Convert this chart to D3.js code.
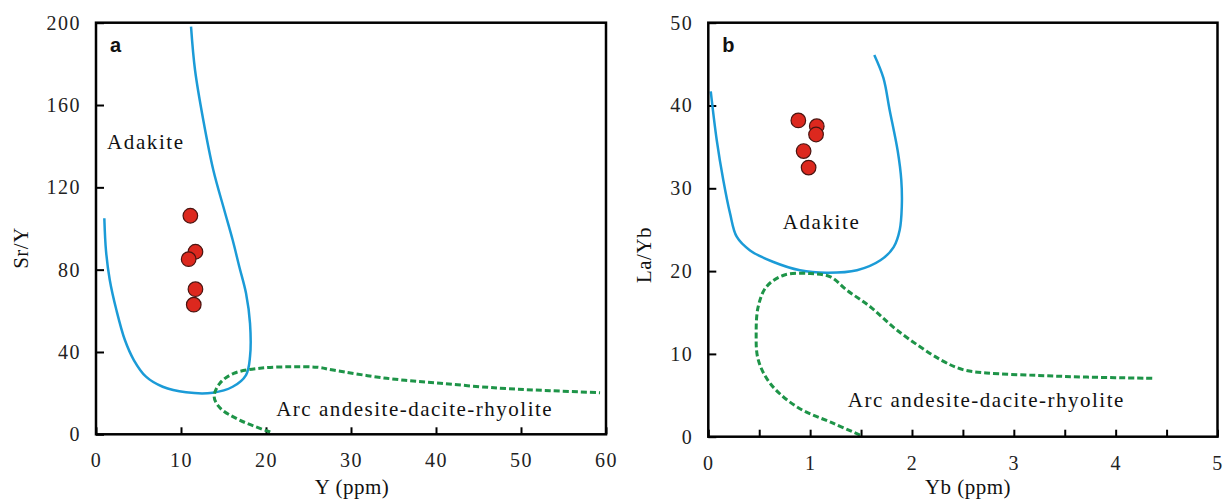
<!DOCTYPE html>
<html>
<head>
<meta charset="utf-8">
<script src="https://cdn.jsdelivr.net/npm/d3@7"></script>
<style>
  body { margin: 0; background: #fff; }
  .tick text { font-family: "Liberation Serif", "Times New Roman", serif; font-size: 20px; letter-spacing: 1.5px; fill: #222; }
  .axis path.domain { display: none; }
  .axis line { stroke: #000; stroke-width: 2; }
  .label { font-family: "Liberation Serif", "Times New Roman", serif; font-size: 21px; fill: #111; }
  .panel { font-family: "Liberation Sans", Arial, sans-serif; font-size: 20px; font-weight: bold; fill: #111; }
</style>
</head>
<body>
<script>
// panel a: Sr/Y vs Y
var aSamples = [[11.1, 106.2], [11.7, 88.7], [10.9, 85.1], [11.7, 70.5], [11.5, 63.0]];
var aAdakite = [[0.98, 105.0], [1.18, 89.0], [1.62, 75.0], [2.4, 60.4], [3.4, 45.8], [4.45, 36.1],
  [5.88, 28.0], [7.85, 23.1], [10.59, 20.4], [13.73, 20.2], [16.08, 23.1], [17.65, 28.8], [18.12, 37.7],
  [18.12, 53.9], [17.65, 68.5], [16.86, 81.4], [16.08, 94.4], [15.09, 109.0], [13.8, 128.4],
  [12.62, 152.7], [11.65, 177.0], [11.18, 198.1]];
var aArc = [[20.5, 1.1], [16.9, 6.9], [14.6, 12.8], [13.9, 18.3], [14.6, 24.9], [16.2, 29.6], [19.3, 32.1],
  [22.8, 32.8], [26.0, 32.6], [27.9, 31.2], [34.2, 27.2], [40.5, 24.8], [47.5, 22.4], [53.4, 21.2], [59.3, 20.2]];
var aXTicks = [0, 10, 20, 30, 40, 50, 60];
var aYTicks = [0, 40, 80, 120, 160, 200];

// panel b: La/Yb vs Yb
var bSamples = [[0.884, 38.2], [1.065, 37.5], [1.058, 36.5], [0.936, 34.5], [0.985, 32.5]];
var bAdakite = [[0.024, 41.7], [0.083, 35.8], [0.147, 31.0], [0.213, 27.0], [0.279, 24.15], [0.41, 22.5],
  [0.64, 21.1], [0.90, 20.1], [1.16, 19.8], [1.46, 20.1], [1.69, 21.3], [1.82, 22.9], [1.88, 25.0],
  [1.90, 27.8], [1.895, 31.0], [1.86, 34.5], [1.78, 39.5], [1.72, 43.3], [1.63, 46.1]];
var bArc = [[1.49, 0.2], [1.23, 1.6], [0.87, 3.6], [0.61, 6.4], [0.49, 9.3], [0.47, 12.5], [0.49, 15.7],
  [0.57, 18.1], [0.74, 19.5], [1.0, 19.7], [1.20, 19.3], [1.36, 17.7], [1.59, 15.7], [1.85, 12.9],
  [2.28, 9.3], [2.50, 8.1], [2.73, 7.7], [3.23, 7.4], [3.72, 7.2], [4.37, 7.05]];
var bXTicks = [0, 0.5, 1, 1.5, 2, 2.5, 3, 3.5, 4, 4.5, 5];
var bYTicks = [0, 10, 20, 30, 40, 50];

var blue = "#1b9bd7", green = "#1e9448", red = "#dc281e";

var svg = d3.select("body").append("svg")
    .attr("width", 1225)
    .attr("height", 499);

function panel(o) {
  var x = d3.scaleLinear().domain(o.xDomain).range(o.xRange);
  var y = d3.scaleLinear().domain(o.yDomain).range(o.yRange);
  var g = svg.append("g");

  g.append("g")
      .attr("class", "axis")
      .attr("transform", "translate(0," + o.yRange[0] + ")")
      .call(d3.axisBottom(x).tickValues(o.xTicks).tickSize(-7).tickPadding(18)
        .tickFormat(function(d) { return Number.isInteger(d) ? d : ""; }))
      .selectAll(".tick text").attr("dy", "0.35em").attr("y", 26);

  g.append("g")
      .attr("class", "axis")
      .attr("transform", "translate(" + o.xRange[0] + ",0)")
      .call(d3.axisLeft(y).tickValues(o.yTicks).tickSize(-8).tickPadding(15));

  var line = d3.line()
      .x(function(d) { return x(d[0]); })
      .y(function(d) { return y(d[1]); })
      .curve(d3.curveCatmullRom.alpha(0.5));

  g.append("path")
      .attr("d", line(o.adakite))
      .attr("fill", "none")
      .attr("stroke", blue)
      .attr("stroke-width", 2.5);

  g.append("path")
      .attr("d", line(o.arc))
      .attr("fill", "none")
      .attr("stroke", green)
      .attr("stroke-width", 3)
      .attr("stroke-dasharray", "6,3");

  g.selectAll(".dot")
      .data(o.samples)
      .enter().append("circle")
      .attr("class", "dot")
      .attr("cx", function(d) { return x(d[0]); })
      .attr("cy", function(d) { return y(d[1]); })
      .attr("r", 7.3)
      .attr("fill", red)
      .attr("stroke", "#4a1410")
      .attr("stroke-width", 1.2);

  // frame
  g.append("rect")
      .attr("x", o.xRange[0])
      .attr("y", o.yRange[1])
      .attr("width", o.xRange[1] - o.xRange[0])
      .attr("height", o.yRange[0] - o.yRange[1])
      .attr("fill", "none")
      .attr("stroke", "#000")
      .attr("stroke-width", 2.5);

  g.append("text")
      .attr("class", "panel")
      .attr("x", o.xRange[0] + 14)
      .attr("y", o.yRange[1] + 29)
      .text(o.tag);

  g.append("text")
      .attr("class", "label")
      .attr("x", o.xTitleX)
      .attr("y", 494)
      .style("text-anchor", "middle")
      .style("letter-spacing", "0.5px")
      .text(o.xTitle);

  g.append("text")
      .attr("class", "label")
      .attr("transform", "translate(" + o.yTitleX + "," + o.yTitleY + ") rotate(-90)")
      .style("text-anchor", "middle")
      .style("letter-spacing", "0.5px")
      .text(o.yTitle);

  o.texts.forEach(function(t) {
    g.append("text")
        .attr("class", "label")
        .attr("x", x(t.x))
        .attr("y", y(t.y))
        .style("letter-spacing", t.ls)
        .text(t.text);
  });
}

panel({
  xDomain: [0, 60], xRange: [96, 606],
  yDomain: [0, 200], yRange: [434.3, 22.7],
  xTicks: aXTicks, yTicks: aYTicks,
  samples: aSamples, adakite: aAdakite, arc: aArc,
  tag: "a", xTitle: "Y (ppm)", xTitleX: 352, yTitle: "Sr/Y", yTitleX: 28, yTitleY: 248,
  texts: [
    {text: "Adakite", x: 1.3, y: 138.5, ls: "1.6px"},
    {text: "Arc andesite-dacite-rhyolite", x: 21.2, y: 9, ls: "1.5px"}
  ]
});

panel({
  xDomain: [0, 5], xRange: [708.3, 1217.5],
  yDomain: [0, 50], yRange: [436.7, 22.7],
  xTicks: bXTicks, yTicks: bYTicks,
  samples: bSamples, adakite: bAdakite, arc: bArc,
  tag: "b", xTitle: "Yb (ppm)", xTitleX: 968, yTitle: "La/Yb", yTitleX: 651, yTitleY: 255,
  texts: [
    {text: "Adakite", x: 0.73, y: 25.1, ls: "1.6px"},
    {text: "Arc andesite-dacite-rhyolite", x: 1.37, y: 3.6, ls: "1.5px"}
  ]
});
</script>
</body>
</html>
